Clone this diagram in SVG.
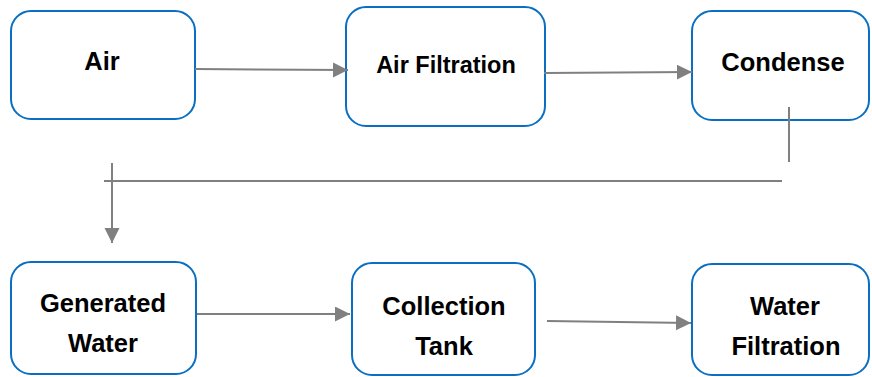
<svg xmlns="http://www.w3.org/2000/svg" width="872" height="377" viewBox="0 0 872 377">
  <style>
    .box { fill: #ffffff; stroke: #0a6fc2; stroke-width: 2; }
    .lbl { font-family: "Liberation Sans", Arial, sans-serif; font-weight: bold; fill: #000000; text-anchor: middle; font-size: 25.5px; }
    .conn { fill: none; stroke: #808080; stroke-width: 2; }
  </style>
  <defs>
    <marker id="arrow" markerUnits="userSpaceOnUse" markerWidth="16" markerHeight="16" refX="15" refY="7.5" orient="auto">
      <path d="M0,0 L15,7.5 L0,15 Z" fill="#808080"/>
    </marker>
  </defs>
  <rect width="872" height="377" fill="#ffffff"/>

  <g id="node-air">
    <rect class="box" x="11" y="11" width="184" height="108" rx="20"/>
    <text class="lbl" x="102" y="70">Air</text>
  </g>
  <g id="node-air-filtration">
    <rect class="box" x="346" y="7" width="199" height="119" rx="20"/>
    <text class="lbl" x="446" y="73" style="font-size:23.5px">Air Filtration</text>
  </g>
  <g id="node-condense">
    <rect class="box" x="692" y="11" width="177" height="109" rx="20"/>
    <text class="lbl" x="783" y="71">Condense</text>
  </g>
  <g id="node-generated-water">
    <rect class="box" x="11" y="262" width="185" height="112" rx="20"/>
    <text class="lbl" x="103" y="312">Generated</text>
    <text class="lbl" x="103" y="352">Water</text>
  </g>
  <g id="node-collection-tank">
    <rect class="box" x="352" y="263" width="183" height="112" rx="20"/>
    <text class="lbl" x="444" y="315">Collection</text>
    <text class="lbl" x="444" y="355">Tank</text>
  </g>
  <g id="node-water-filtration">
    <rect class="box" x="692" y="264" width="177" height="111" rx="20"/>
    <text class="lbl" x="785" y="315">Water</text>
    <text class="lbl" x="786" y="355">Filtration</text>
  </g>

  <g id="connectors">
    <line class="conn" x1="195" y1="69" x2="348" y2="70" marker-end="url(#arrow)"/>
    <line class="conn" x1="544" y1="73" x2="692" y2="72" marker-end="url(#arrow)"/>
    <line class="conn" x1="789" y1="107" x2="789" y2="162"/>
    <line class="conn" x1="104" y1="181" x2="782" y2="181"/>
    <line class="conn" x1="112" y1="163" x2="112" y2="243" marker-end="url(#arrow)"/>
    <line class="conn" x1="197" y1="314" x2="350" y2="314" marker-end="url(#arrow)"/>
    <line class="conn" x1="547" y1="321" x2="691" y2="323" marker-end="url(#arrow)"/>
  </g>
</svg>
